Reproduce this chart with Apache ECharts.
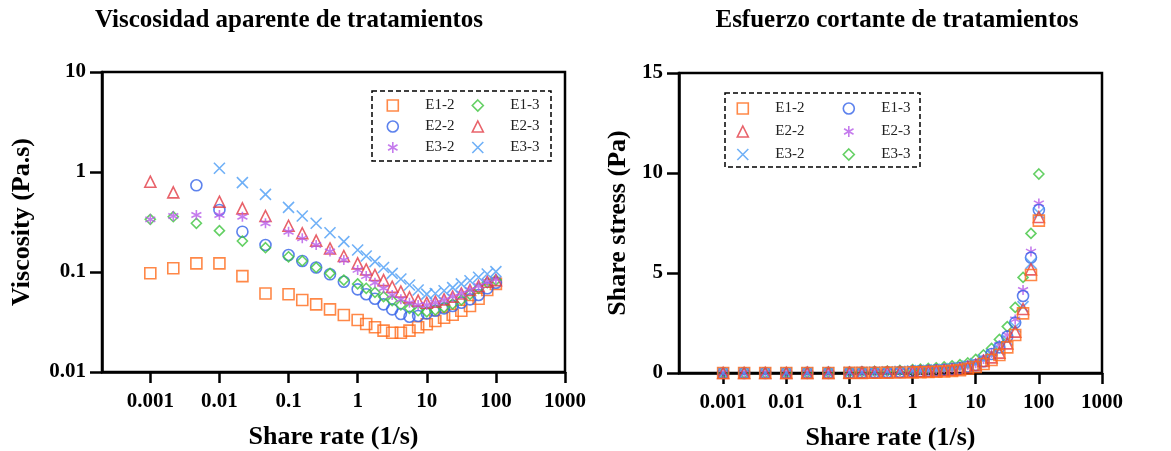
<!DOCTYPE html>
<html><head><meta charset="utf-8">
<script src="https://cdn.jsdelivr.net/npm/echarts@6/dist/echarts.min.js"></script>
<style>
html,body{margin:0;padding:0;background:#fff;}
#left{position:absolute;left:0;top:0;width:600px;height:451px;}
#right{position:absolute;left:600px;top:0;width:571px;height:451px;}
</style>
</head><body><div id="left"></div><div id="right"></div>
<script>
// ---- data ----
const shearRate = [0.001,0.00215,0.00464,0.01,0.0215,0.0464,0.1,0.158,0.251,0.398,0.631,1,1.33,1.78,2.37,3.16,4.22,5.62,7.5,10,13.3,17.8,23.7,31.6,42.2,56.2,75,100];
const xTickValues = [0.001,0.01,0.1,1,10,100,1000];
const viscTickValues = [0.01,0.1,1,10];
const stressTickValues = [0,5,10,15];
const seriesNames = ['E1-2','E1-3','E2-2','E2-3','E3-2','E3-3'];

// Viscosity (Pa.s)
const viscE12 = [0.097,0.109,0.122,0.122,0.091,0.061,0.060,0.0525,0.0475,0.0423,0.0371,0.0331,0.0302,0.028,0.0259,0.0247,0.0247,0.0259,0.028,0.030,0.0324,0.0349,0.0374,0.041,0.0457,0.054,0.066,0.076];
const viscE13 = [0.336,0.357,0.307,0.259,0.204,0.175,0.142,0.129,0.111,0.097,0.083,0.076,0.0687,0.0626,0.0567,0.0517,0.0468,0.0433,0.041,0.040,0.0417,0.0443,0.0479,0.0525,0.0598,0.0687,0.0782,0.083];
const viscE22 = [null,null,0.736,0.417,0.253,0.186,0.148,0.129,0.111,0.0948,0.080,0.0671,0.060,0.054,0.0475,0.0423,0.038,0.0357,0.0363,0.0386,0.041,0.0433,0.0457,0.0493,0.0533,0.0589,0.0687,0.0782];
const viscE23 = [0.80,0.626,null,0.505,0.433,0.363,0.290,0.244,0.206,0.172,0.1445,0.122,0.106,0.0933,0.083,0.0713,0.0636,0.0558,0.0517,0.0493,0.0505,0.0533,0.0567,0.061,0.066,0.0724,0.080,0.083];
const viscE32 = [0.336,0.363,0.372,0.372,0.357,0.307,0.253,0.217,0.186,0.160,0.132,0.105,0.091,0.0782,0.0687,0.0589,0.0533,0.0493,0.0468,0.0468,0.0493,0.0525,0.0567,0.061,0.066,0.0724,0.080,0.0844];
const viscE33 = [null,null,null,1.09,0.782,0.598,0.443,0.363,0.307,0.247,0.201,0.166,0.1445,0.127,0.111,0.097,0.0851,0.0741,0.066,0.060,0.061,0.065,0.0697,0.076,0.0818,0.0885,0.0955,0.101];

// Shear stress (Pa)
const stressE12 = [0.0001,0.0002,0.0006,0.0012,0.002,0.003,0.006,0.008,0.012,0.017,0.023,0.033,0.04,0.05,0.061,0.078,0.104,0.145,0.21,0.3,0.45,0.65,0.9,1.28,1.9,2.98,4.9,7.62];
const stressE13 = [0.0003,0.0008,0.0014,0.0026,0.0044,0.0081,0.014,0.02,0.028,0.039,0.052,0.076,0.091,0.11,0.134,0.163,0.197,0.243,0.31,0.4,0.59,0.95,1.28,1.82,2.52,3.85,5.77,8.15];
const stressE22 = [0.0002,0.0005,0.0034,0.0042,0.0054,0.0086,0.0148,0.02,0.028,0.038,0.05,0.067,0.08,0.096,0.113,0.134,0.16,0.2,0.29,0.4,0.6,0.78,1.02,1.48,2.07,3.2,5.18,7.8];
const stressE23 = [0.0008,0.0013,0.002,0.005,0.009,0.017,0.029,0.039,0.052,0.068,0.091,0.122,0.141,0.166,0.197,0.225,0.268,0.314,0.39,0.49,0.7,1.0,1.4,1.9,2.68,4.15,6.07,8.48];
const stressE32 = [0.0003,0.0008,0.0017,0.0037,0.0077,0.0142,0.025,0.034,0.047,0.064,0.083,0.105,0.121,0.139,0.163,0.186,0.225,0.277,0.35,0.47,0.66,0.9,1.18,1.65,2.3,3.32,5.48,8.0];
const stressE33 = [0.0001,0.0002,0.0005,0.011,0.017,0.028,0.044,0.057,0.077,0.098,0.127,0.166,0.192,0.226,0.262,0.306,0.359,0.416,0.5,0.68,0.9,1.23,1.68,2.32,3.28,4.78,6.98,9.95];

// ---- styles ----
const SERIF = 'Liberation Serif, Times New Roman, serif';
const C = {orange:'#FF6A1A', green:'#3DC43D', blue:'#3563E9', red:'#E23B45', purple:'#B65BE8', sky:'#4B9CF5'};
const SYM = {
  square:{symbol:'rect', size:11},
  circle:{symbol:'circle', size:11},
  triangle:{symbol:'triangle', size:11},
  diamond:{symbol:'diamond', size:10},
  cross:{symbol:'path://M0,0L10,10M10,0L0,10', size:11},
  star:{symbol:'path://M5,0L5,10M0.7,2.5L9.3,7.5M9.3,2.5L0.7,7.5', size:10}
};

function pairs(vals){
  const out = [];
  shearRate.forEach((x,i)=>{ if (vals[i] !== null && vals[i] !== undefined) out.push([x, vals[i]]); });
  return out;
}
function mkSeries(name, vals, color, sym){
  return {
    type:'scatter', name, data:pairs(vals),
    symbol:SYM[sym].symbol, symbolSize:SYM[sym].size,
    itemStyle:{color:'transparent', borderColor:color, borderWidth:1.6},
    emphasis:{disabled:true}, animation:false
  };
}
function tickFmt(list){
  return v => {
    const t = list.find(t => t === 0 ? Math.abs(v) < 1e-9 : (v > 0 && Math.abs(Math.log10(t) - Math.log10(v)) < 1e-6));
    return t === undefined ? '' : String(t);
  };
}
const labelStyle = {fontFamily:SERIF, fontWeight:'bold', fontSize:21, color:'#000'};
const nameStyle = {fontFamily:SERIF, fontWeight:'bold', fontSize:26, color:'#000'};
function xAxisCfg(nameGap){
  return {
    type:'log', logBase:10, min:0.0002, max:1000,
    axisLine:{show:true, onZero:false, lineStyle:{color:'#000', width:2.5}},
    axisTick:{show:true, length:11, lineStyle:{color:'#000', width:2.5}, customValues:xTickValues},
    axisLabel:Object.assign({customValues:xTickValues, formatter:tickFmt(xTickValues), margin:19, hideOverlap:false}, labelStyle),
    splitLine:{show:false}, minorTick:{show:false},
    name:'Share rate (1/s)', nameLocation:'middle', nameGap:nameGap, nameTextStyle:nameStyle
  };
}
function legendCfg(names, left, top, gap){
  return {
    data:names, orient:'vertical', left:left, top:top, padding:0,
    itemWidth:11, itemHeight:11, itemGap:gap, selectedMode:false,
    itemStyle:{borderWidth:1.6},
    formatter: n => '{t|' + n + '}',
    textStyle:{fontFamily:SERIF, fontSize:15, color:'#222', rich:{t:{fontFamily:SERIF, fontSize:15, color:'#222', lineHeight:15, padding:[0,0,0,22]}}}
  };
}
function boxCfg(x,y,w,h){
  return {type:'rect', shape:{x:x,y:y,width:w,height:h}, style:{fill:'none', stroke:'#000', lineWidth:1.5, lineDash:[5,3]}, z:100};
}

// ---- left chart ----
const leftChart = echarts.init(document.getElementById('left'), null, {renderer:'canvas'});
leftChart.setOption({
  animation:false,
  backgroundColor:'#fff',
  title:{text:'Viscosidad aparente de tratamientos', left:289, top:8, padding:0, textAlign:'center',
         textStyle:{fontFamily:SERIF, fontWeight:'bold', fontSize:25, color:'#000'}},
  grid:{left:102, top:72, width:463, height:300, show:true, borderColor:'#000', borderWidth:2.5, backgroundColor:'transparent', containLabel:false, outerBoundsMode:'none'},
  xAxis:xAxisCfg(52),
  yAxis:{
    type:'log', logBase:10, min:0.01, max:10,
    axisLine:{show:true, onZero:false, lineStyle:{color:'#000', width:2.5}},
    axisTick:{show:true, length:12, lineStyle:{color:'#000', width:2.5}, customValues:viscTickValues},
    axisLabel:Object.assign({customValues:viscTickValues, formatter:tickFmt(viscTickValues), margin:16}, labelStyle),
    splitLine:{show:false}, minorTick:{show:false},
    name:'Viscosity (Pa.s)', nameLocation:'middle', nameGap:67, nameTextStyle:nameStyle
  },
  legend:[
    legendCfg(['E1-2','E2-2','E3-2'], 386.5, 98, 6),
    legendCfg(['E1-3','E2-3','E3-3'], 471.5, 98, 6)
  ],
  graphic:[boxCfg(372,91,179,70)],
  series:[
    mkSeries('E1-2', viscE12, C.orange, 'square'),
    mkSeries('E2-2', viscE22, C.blue, 'circle'),
    mkSeries('E1-3', viscE13, C.green, 'diamond'),
    mkSeries('E2-3', viscE23, C.red, 'triangle'),
    mkSeries('E3-2', viscE32, C.purple, 'star'),
    mkSeries('E3-3', viscE33, C.sky, 'cross')
  ]
});

// ---- right chart ----
const rightChart = echarts.init(document.getElementById('right'), null, {renderer:'canvas'});
rightChart.setOption({
  animation:false,
  backgroundColor:'#fff',
  title:{text:'Esfuerzo cortante de tratamientos', left:297, top:8, padding:0, textAlign:'center',
         textStyle:{fontFamily:SERIF, fontWeight:'bold', fontSize:25, color:'#000'}},
  grid:{left:79, top:73, width:423, height:300, show:true, borderColor:'#000', borderWidth:2.5, backgroundColor:'transparent', containLabel:false, outerBoundsMode:'none'},
  xAxis:xAxisCfg(52),
  yAxis:{
    type:'value', min:0, max:15, interval:5,
    axisLine:{show:true, onZero:false, lineStyle:{color:'#000', width:2.5}},
    axisTick:{show:true, length:12, lineStyle:{color:'#000', width:2.5}},
    axisLabel:Object.assign({formatter:tickFmt(stressTickValues), margin:16}, labelStyle),
    splitLine:{show:false},
    name:'Share stress (Pa)', nameLocation:'middle', nameGap:44, nameTextStyle:nameStyle
  },
  legend:[
    legendCfg(['E1-2','E2-2','E3-2'], 136.5, 101, 8),
    legendCfg(['E1-3','E2-3','E3-3'], 242.5, 101, 8)
  ],
  graphic:[boxCfg(125,93,195,74)],
  series:[
    mkSeries('E3-3', stressE33, C.green, 'diamond'),
    mkSeries('E2-3', stressE23, C.purple, 'star'),
    mkSeries('E1-3', stressE13, C.blue, 'circle'),
    mkSeries('E3-2', stressE32, C.sky, 'cross'),
    mkSeries('E2-2', stressE22, C.red, 'triangle'),
    mkSeries('E1-2', stressE12, C.orange, 'square')
  ]
});
</script>
</body></html>
